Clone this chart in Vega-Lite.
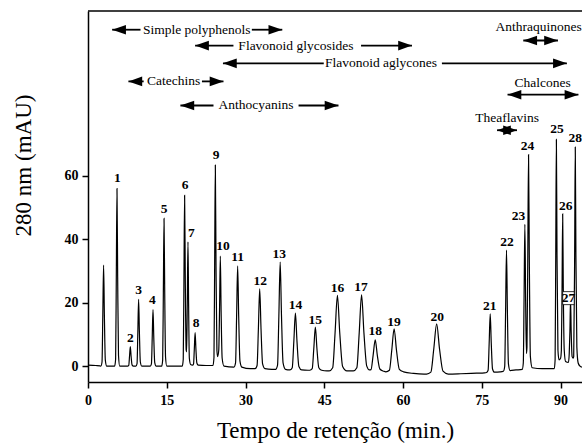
{
  "$schema": "https://vega.github.io/schema/vega-lite/v6.json",
  "width": 494,
  "height": 371,
  "autosize": {"type": "none"},
  "padding": {"left": 88, "top": 11, "right": 0, "bottom": 63},
  "background": "white",
  "config": {"view": {"stroke": null}},
  "datasets": {
    "trace": [
      {"t":0,"v":0.3},{"t":1.5,"v":0.2},{"t":2.3,"v":0.1},
      {"t":2.45,"v":0},{"t":2.67,"v":1.3},{"t":2.82,"v":16},{"t":2.97,"v":31.9},{"t":3.12,"v":16},{"t":3.3,"v":1.9},{"t":3.57,"v":0},
      {"t":4.4,"v":0},
      {"t":5.07,"v":0},{"t":5.26,"v":2.2},{"t":5.39,"v":28},{"t":5.52,"v":56},{"t":5.65,"v":28},{"t":5.81,"v":3.4},{"t":6.04,"v":0},
      {"t":7.0,"v":0},
      {"t":7.54,"v":0},{"t":7.76,"v":0.25},{"t":7.91,"v":3.1},{"t":8.06,"v":6.2},{"t":8.21,"v":3.1},{"t":8.39,"v":0.4},{"t":8.66,"v":0},
      {"t":9.12,"v":0},{"t":9.34,"v":0.8},{"t":9.49,"v":10.6},{"t":9.64,"v":21.1},{"t":9.79,"v":10.6},{"t":9.97,"v":1.3},{"t":10.24,"v":0},
      {"t":11.0,"v":0},
      {"t":11.86,"v":0},{"t":12.08,"v":0.7},{"t":12.23,"v":8.9},{"t":12.38,"v":17.8},{"t":12.53,"v":8.9},{"t":12.71,"v":1.1},{"t":12.98,"v":0},
      {"t":14.03,"v":0},{"t":14.22,"v":1.9},{"t":14.35,"v":23.3},{"t":14.48,"v":46.6},{"t":14.61,"v":23.3},{"t":14.77,"v":2.8},{"t":15.0,"v":0},
      {"t":16.5,"v":0},
      {"t":17.95,"v":0},{"t":18.14,"v":2.2},{"t":18.27,"v":27},{"t":18.4,"v":53.9},{"t":18.53,"v":27},{"t":18.7,"v":5},{"t":18.78,"v":4.5},{"t":18.91,"v":20},{"t":19.04,"v":39.2},{"t":19.16,"v":19.6},{"t":19.3,"v":2.5},{"t":19.55,"v":0.5},
      {"t":19.9,"v":0.3},{"t":20.1,"v":0.7},{"t":20.25,"v":5.5},{"t":20.4,"v":10.6},{"t":20.55,"v":5.5},{"t":20.73,"v":1.0},{"t":21.0,"v":0.3},
      {"t":22.5,"v":0.2},
      {"t":23.8,"v":0.2},{"t":23.99,"v":2.7},{"t":24.12,"v":31.8},{"t":24.25,"v":63.4},{"t":24.38,"v":31.8},{"t":24.55,"v":5},{"t":24.68,"v":3},{"t":24.9,"v":5},{"t":25.05,"v":17.5},{"t":25.2,"v":34.7},{"t":25.35,"v":17.5},{"t":25.55,"v":2.5},{"t":25.9,"v":0},
      {"t":27.8,"v":-0.3},{"t":28.1,"v":1.0},{"t":28.3,"v":15.6},{"t":28.5,"v":31.6},{"t":28.7,"v":15.6},{"t":28.94,"v":1.6},{"t":29.3,"v":-0.3},
      {"t":30.9,"v":-0.8},
      {"t":31.83,"v":-0.8},{"t":32.2,"v":0.2},{"t":32.45,"v":11.8},{"t":32.7,"v":24.4},{"t":32.95,"v":11.8},{"t":33.25,"v":0.7},{"t":33.7,"v":-0.8},
      {"t":35.0,"v":-1.0},
      {"t":35.73,"v":-1.0},{"t":36.1,"v":0.35},{"t":36.35,"v":15.9},{"t":36.6,"v":32.8},{"t":36.85,"v":15.9},{"t":37.15,"v":1.0},{"t":37.6,"v":-1.0},
      {"t":38.45,"v":-1.2},{"t":38.9,"v":-0.5},{"t":39.2,"v":7.8},{"t":39.5,"v":16.7},{"t":39.8,"v":7.8},{"t":40.16,"v":-0.1},{"t":40.7,"v":-1.2},
      {"t":41.9,"v":-1.3},
      {"t":42.25,"v":-1.3},{"t":42.7,"v":-0.8},{"t":43.0,"v":5.5},{"t":43.3,"v":12.3},{"t":43.6,"v":5.5},{"t":43.96,"v":-0.5},{"t":44.5,"v":-1.3},
      {"t":45.5,"v":-1.5},
      {"t":45.93,"v":-1.5},{"t":46.6,"v":-0.5},{"t":47.05,"v":10.4},{"t":47.5,"v":22.3},{"t":47.95,"v":10.4},{"t":48.49,"v":-0.1},{"t":49.3,"v":-1.5},
      {"t":50.3,"v":-1.5},
      {"t":50.53,"v":-1.5},{"t":51.2,"v":-0.5},{"t":51.65,"v":10.5},{"t":52.1,"v":22.5},{"t":52.55,"v":10.5},{"t":53.09,"v":0},{"t":53.6,"v":-1.2},
      {"t":53.9,"v":-1.1},{"t":54.3,"v":3.4},{"t":54.7,"v":8.3},{"t":55.1,"v":3.4},{"t":55.58,"v":-0.9},{"t":56.3,"v":-1.6},
      {"t":56.73,"v":-1.8},{"t":57.4,"v":-1.3},{"t":57.85,"v":5},{"t":58.3,"v":11.8},{"t":58.75,"v":5},{"t":59.29,"v":-1.0},{"t":60.1,"v":-1.8},
      {"t":62,"v":-2.3},{"t":64,"v":-2.5},
      {"t":64.48,"v":-2.5},{"t":65.3,"v":-1.9},{"t":65.85,"v":5.4},{"t":66.4,"v":13.3},{"t":66.95,"v":5.4},{"t":67.61,"v":-1.6},{"t":68.6,"v":-2.5},
      {"t":71,"v":-2.4},{"t":74,"v":-2.2},{"t":75.5,"v":-2.1},
      {"t":75.9,"v":-2.0},{"t":76.2,"v":-1.3},{"t":76.4,"v":7.2},{"t":76.6,"v":16.5},{"t":76.8,"v":7.2},{"t":77.04,"v":-0.9},{"t":77.4,"v":-1.9},
      {"t":78.5,"v":-1.8},
      {"t":79.1,"v":-1.6},{"t":79.36,"v":-0.1},{"t":79.53,"v":17.5},{"t":79.7,"v":36.6},{"t":79.87,"v":17.5},{"t":80.07,"v":0.7},{"t":80.38,"v":-1.4},
      {"t":81.5,"v":-1.2},
      {"t":82.7,"v":-1.0},{"t":82.9,"v":1},{"t":83.05,"v":22},{"t":83.2,"v":44.7},{"t":83.35,"v":20},{"t":83.5,"v":4},{"t":83.6,"v":6},{"t":83.75,"v":33},{"t":83.9,"v":66.7},{"t":84.05,"v":33},{"t":84.25,"v":3},{"t":84.6,"v":-0.5},
      {"t":86.5,"v":-0.8},{"t":88.5,"v":-0.8},
      {"t":88.8,"v":-0.8},{"t":88.96,"v":2},{"t":89.08,"v":35},{"t":89.2,"v":71.5},{"t":89.32,"v":35},{"t":89.5,"v":5},{"t":89.7,"v":2},
      {"t":90.0,"v":2.5},{"t":90.15,"v":5},{"t":90.28,"v":24},{"t":90.4,"v":48},{"t":90.52,"v":24},{"t":90.7,"v":5},{"t":90.95,"v":1.5},
      {"t":91.5,"v":1.2},{"t":91.65,"v":4},{"t":91.78,"v":11},{"t":91.9,"v":21},{"t":92.02,"v":11},{"t":92.2,"v":3},{"t":92.4,"v":2.5},
      {"t":92.5,"v":3},{"t":92.68,"v":35},{"t":92.8,"v":69.1},{"t":92.92,"v":35},{"t":93.1,"v":6},{"t":93.35,"v":1},{"t":93.7,"v":0},{"t":94.08,"v":-0.3}
    ],
    "segments": [
      {"x1":4.6,"x2":10.0,"y":106.1},{"x1":31.2,"x2":37.0,"y":106.1},
      {"x1":20.4,"x2":27.7,"y":101.1},{"x1":52.0,"x2":61.7,"y":101.1},
      {"x1":25.7,"x2":44.9,"y":95.5},{"x1":67.4,"x2":91.2,"y":95.5},
      {"x1":7.7,"x2":10.6,"y":89.8},{"x1":21.7,"x2":25.8,"y":89.8},
      {"x1":17.6,"x2":23.9,"y":82.2},{"x1":40.1,"x2":47.7,"y":82.2},
      {"x1":82.9,"x2":89.5,"y":102.7},
      {"x1":79.9,"x2":93.4,"y":85.6},
      {"x1":77.9,"x2":81.7,"y":74.4}
    ],
    "heads": [
      {"x":4.6,"y":106.1,"dir":"L"},{"x":37.0,"y":106.1,"dir":"R"},
      {"x":20.4,"y":101.1,"dir":"L"},{"x":61.7,"y":101.1,"dir":"R"},
      {"x":25.7,"y":95.5,"dir":"L"},{"x":91.2,"y":95.5,"dir":"R"},
      {"x":7.7,"y":89.8,"dir":"L"},{"x":25.8,"y":89.8,"dir":"R"},
      {"x":17.6,"y":82.2,"dir":"L"},{"x":47.7,"y":82.2,"dir":"R"},
      {"x":82.9,"y":102.7,"dir":"L"},{"x":89.5,"y":102.7,"dir":"R"},
      {"x":79.9,"y":85.6,"dir":"L"},{"x":93.4,"y":85.6,"dir":"R"},
      {"x":77.9,"y":74.4,"dir":"L"},{"x":81.7,"y":74.4,"dir":"R"}
    ],
    "groups": [
      {"x":20.7,"y":106.1,"label":"Simple polyphenols"},
      {"x":39.6,"y":101.1,"label":"Flavonoid glycosides"},
      {"x":55.8,"y":95.5,"label":"Flavonoid aglycones"},
      {"x":16.3,"y":89.8,"label":"Catechins"},
      {"x":32.0,"y":82.2,"label":"Anthocyanins"},
      {"x":85.8,"y":106.9,"label":"Anthraquinones"},
      {"x":86.6,"y":89.2,"label":"Chalcones"},
      {"x":79.8,"y":78.4,"label":"Theaflavins"}
    ],
    "peaks": [
      {"x":5.6,"y":59.2,"label":"1"},{"x":8.06,"y":8.8,"label":"2"},{"x":9.64,"y":24,"label":"3"},
      {"x":12.25,"y":20.8,"label":"4"},{"x":14.5,"y":49.7,"label":"5"},{"x":18.5,"y":57,"label":"6"},
      {"x":19.7,"y":41.9,"label":"7"},{"x":20.6,"y":13.6,"label":"8"},{"x":24.4,"y":66.5,"label":"9"},
      {"x":25.7,"y":37.9,"label":"10"},{"x":28.5,"y":34.4,"label":"11"},{"x":32.8,"y":27,"label":"12"},
      {"x":36.4,"y":35.4,"label":"13"},{"x":39.5,"y":19.4,"label":"14"},{"x":43.3,"y":14.7,"label":"15"},
      {"x":47.5,"y":24.6,"label":"16"},{"x":52.0,"y":25.1,"label":"17"},{"x":54.7,"y":11,"label":"18"},
      {"x":58.3,"y":14,"label":"19"},{"x":66.5,"y":15.6,"label":"20"},{"x":76.5,"y":19,"label":"21"},
      {"x":79.8,"y":39.1,"label":"22"},{"x":82.0,"y":47.4,"label":"23"},{"x":83.7,"y":69.3,"label":"24"},
      {"x":89.3,"y":74.8,"label":"25"},{"x":91.0,"y":50.6,"label":"26"},{"x":91.5,"y":21.4,"label":"27"},
      {"x":92.8,"y":72.1,"label":"28"}
    ],
    "box": [{"x1":90.4,"x2":92.6,"y1":19.4,"y2":23.5}]
  },
  "layer": [
    {
      "data": {"name": "trace"},
      "mark": {"type": "line", "interpolate": "monotone", "color": "black", "strokeWidth": 1.2},
      "encoding": {
        "x": {
          "field": "t", "type": "quantitative",
          "scale": {"domain": [0, 94.08], "nice": false, "zero": false},
          "axis": {
            "values": [0, 15, 30, 45, 60, 75, 90],
            "grid": false, "domain": true, "domainColor": "black", "domainWidth": 1.5,
            "ticks": true, "tickColor": "black", "tickWidth": 1.5, "tickSize": 6,
            "labelFont": "Liberation Serif", "labelFontWeight": "bold", "labelFontSize": 14,
            "labelColor": "black", "labelPadding": 5, "labelFlush": false,
            "title": "Tempo de retenção (min.)",
            "titleFont": "Liberation Serif", "titleFontWeight": "normal", "titleFontSize": 23,
            "titleColor": "black", "titleY": 55, "titleBaseline": "alphabetic"
          }
        },
        "y": {
          "field": "v", "type": "quantitative",
          "scale": {"domain": [-5, 112], "nice": false, "zero": false},
          "axis": {
            "values": [0, 20, 40, 60],
            "grid": false, "domain": true, "domainColor": "black", "domainWidth": 1.5,
            "ticks": true, "tickColor": "black", "tickWidth": 1.5, "tickSize": 6,
            "labelFont": "Liberation Serif", "labelFontWeight": "bold", "labelFontSize": 14,
            "labelColor": "black", "labelPadding": 4, "labelFlush": false,
            "title": "280 nm (mAU)",
            "titleFont": "Liberation Serif", "titleFontWeight": "normal", "titleFontSize": 23,
            "titleColor": "black", "titleAngle": -90, "titleX": -65, "titleY": 154,
            "titleAlign": "center", "titleBaseline": "middle"
          }
        }
      }
    },
    {
      "data": {"values": [{}]},
      "mark": {"type": "rule", "color": "black", "strokeWidth": 1.5},
      "encoding": {"y": {"datum": 112, "type": "quantitative"}}
    },
    {
      "data": {"name": "segments"},
      "mark": {"type": "rule", "color": "black", "strokeWidth": 1.8},
      "encoding": {
        "x": {"field": "x1", "type": "quantitative"},
        "x2": {"field": "x2"},
        "y": {"field": "y", "type": "quantitative"}
      }
    },
    {
      "data": {"name": "heads"},
      "mark": {"type": "point", "filled": true, "color": "black", "opacity": 1, "size": 190, "strokeWidth": 0},
      "encoding": {
        "x": {"field": "x", "type": "quantitative"},
        "y": {"field": "y", "type": "quantitative"},
        "shape": {
          "field": "dir", "type": "nominal", "legend": null,
          "scale": {"domain": ["L", "R"], "range": ["M0,0L2,-0.7L2,0.7Z", "M0,0L-2,-0.7L-2,0.7Z"]}
        }
      }
    },
    {
      "data": {"name": "groups"},
      "mark": {"type": "text", "font": "Liberation Serif", "fontSize": 13.5, "color": "black", "align": "center", "baseline": "middle"},
      "encoding": {
        "x": {"field": "x", "type": "quantitative"},
        "y": {"field": "y", "type": "quantitative"},
        "text": {"field": "label"}
      }
    },
    {
      "data": {"name": "box"},
      "mark": {"type": "rect", "fill": "white", "stroke": "black", "strokeWidth": 0.8},
      "encoding": {
        "x": {"field": "x1", "type": "quantitative"},
        "x2": {"field": "x2"},
        "y": {"field": "y1", "type": "quantitative"},
        "y2": {"field": "y2"}
      }
    },
    {
      "data": {"name": "peaks"},
      "mark": {"type": "text", "font": "Liberation Serif", "fontWeight": "bold", "fontSize": 13.5, "color": "black", "align": "center", "baseline": "middle"},
      "encoding": {
        "x": {"field": "x", "type": "quantitative"},
        "y": {"field": "y", "type": "quantitative"},
        "text": {"field": "label"}
      }
    }
  ]
}
